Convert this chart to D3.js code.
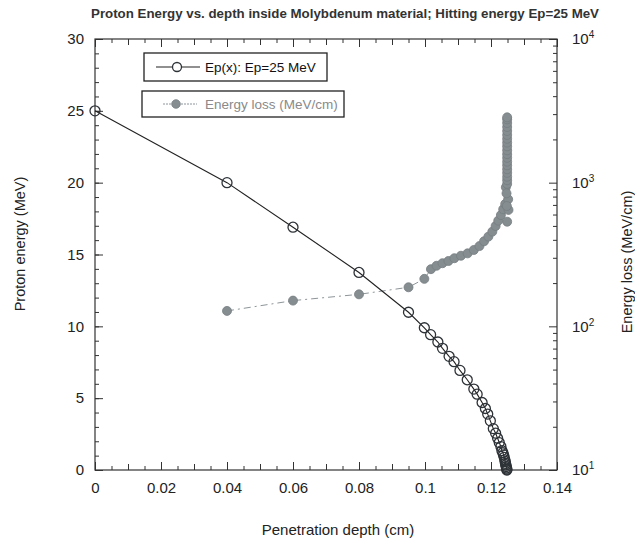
<!DOCTYPE html>
<meta charset="utf-8">
<script src="https://d3js.org/d3.v7.min.js"></script>
<style>
  body { margin: 0; background: #fff; font-family: "Liberation Sans", Arial, sans-serif; }
  .axis text { font-family: "Liberation Sans", Arial, sans-serif; font-size: 15px; fill: #222; }
  .axis line { stroke: #333; }
  .axis path { display: none; }
</style>
<body>
<div id="chart"></div>
<script>

// Ep(x): proton energy vs depth
var epDepth = [0, 0.04, 0.06, 0.08, 0.095, 0.0998, 0.1017, 0.1039, 0.1053, 0.1073, 0.1088, 0.1106,
  0.1128, 0.1148, 0.1158, 0.1173, 0.1183, 0.119, 0.1198, 0.1207, 0.1214, 0.122, 0.1225, 0.123,
  0.1233, 0.1236, 0.1238, 0.124, 0.1242, 0.1243, 0.1244, 0.1245, 0.1246, 0.1247, 0.1248, 0.1248];
var epEnergy = [25, 20, 16.9, 13.75, 10.98, 9.9, 9.42, 8.91, 8.47, 7.91, 7.54, 6.93,
  6.28, 5.63, 5.28, 4.7, 4.28, 3.89, 3.42, 2.88, 2.56, 2.21, 1.91, 1.63,
  1.35, 1.2, 1.05, 0.88, 0.7, 0.58, 0.46, 0.35, 0.24, 0.14, 0.06, 0];

// energy loss (MeV/cm) vs depth
var lossDepth = [0.04, 0.06, 0.08, 0.095, 0.0998, 0.1018, 0.1035, 0.1053, 0.1071, 0.1089, 0.1109,
  0.1129, 0.1148, 0.1165, 0.1179, 0.1192, 0.1204, 0.1214, 0.1222, 0.123, 0.1237, 0.1243,
  0.1249, 0.1245, 0.1252, 0.1247, 0.1253, 0.1248,
  0.1249, 0.1249, 0.1249, 0.1249, 0.1249, 0.1249, 0.1249, 0.1249, 0.1249, 0.1249,
  0.1249, 0.1249, 0.1249, 0.1249, 0.1249, 0.1249, 0.1249, 0.1249, 0.1249];
var lossValues = [128, 151, 167, 187, 214, 250, 264, 275, 285, 298, 310,
  322, 340, 362, 391, 421, 456, 499, 544, 595, 653, 710,
  535, 929, 766, 843, 646, 688,
  980, 1040, 1100, 1170, 1240, 1320, 1400, 1490, 1580, 1680,
  1790, 1900, 2020, 2150, 2290, 2440, 2600, 2760, 2850];

var xTicks = [0, 0.02, 0.04, 0.06, 0.08, 0.1, 0.12, 0.14];
var xTickLabels = ["0", "0.02", "0.04", "0.06", "0.08", "0.1", "0.12", "0.14"];
var yTicks = [0, 5, 10, 15, 20, 25, 30];
var y2Ticks = [10, 100, 1000, 10000];
var y2TickExp = ["1", "2", "3", "4"];

var W = 635, H = 546;
var margin = {top: 39, right: 78, bottom: 76, left: 95},
    width = W - margin.left - margin.right,
    height = H - margin.top - margin.bottom;

var svg = d3.select("#chart").append("svg")
    .attr("width", W).attr("height", H);

svg.append("text")
    .attr("x", 345).attr("y", 18)
    .attr("text-anchor", "middle")
    .style("font-size", "13.3px").style("font-weight", "bold").style("fill", "#333")
    .text("Proton Energy vs. depth inside Molybdenum material; Hitting energy Ep=25 MeV");

var g = svg.append("g")
    .attr("transform", "translate(" + margin.left + "," + margin.top + ")");

var x = d3.scaleLinear().domain([0, 0.14]).range([0, width]);
var y = d3.scaleLinear().domain([0, 30]).range([height, 0]);
var y2 = d3.scaleLog().domain([10, 10000]).range([height, 0]);

// minor ticks
var xMinor = d3.range(0, 0.1401, 0.005);
var xMid = d3.range(0.01, 0.14, 0.02);
var yMinor = d3.range(0, 31, 1);
var y2Minor = [];
[10, 100, 1000].forEach(function(d) { for (var k = 2; k <= 9; k++) y2Minor.push(d * k); });

g.append("g").attr("class", "axis").attr("transform", "translate(0," + height + ")")
  .call(d3.axisBottom(x).tickValues(xMinor).tickSize(-4).tickFormat(""));
g.append("g").attr("class", "axis").attr("transform", "translate(0," + height + ")")
  .call(d3.axisBottom(x).tickValues(xMid).tickSize(-6).tickFormat(""));
g.append("g").attr("class", "axis").attr("transform", "translate(0," + height + ")")
  .call(d3.axisBottom(x).tickValues(xTicks).tickSize(-8).tickPadding(12)
    .tickFormat(function(d, i) { return xTickLabels[i]; }));

g.append("g").attr("class", "axis")
  .call(d3.axisTop(x).tickValues(xMinor).tickSize(-4).tickFormat(""));
g.append("g").attr("class", "axis")
  .call(d3.axisTop(x).tickValues(xMid).tickSize(-6).tickFormat(""));
g.append("g").attr("class", "axis")
  .call(d3.axisTop(x).tickValues(xTicks).tickSize(-8).tickFormat(""));

g.append("g").attr("class", "axis")
  .call(d3.axisLeft(y).tickValues(yMinor).tickSize(-4).tickFormat(""));
g.append("g").attr("class", "axis")
  .call(d3.axisLeft(y).tickValues(yTicks).tickSize(-8).tickPadding(11).tickFormat(d3.format("d")));

g.append("g").attr("class", "axis").attr("transform", "translate(" + width + ",0)")
  .call(d3.axisRight(y2).tickValues(y2Minor).tickSize(-4).tickFormat(""));
var r2 = g.append("g").attr("class", "axis").attr("transform", "translate(" + width + ",0)")
  .call(d3.axisRight(y2).tickValues(y2Ticks).tickSize(-8).tickPadding(15).tickFormat(""));
r2.selectAll(".tick text").each(function(d, i) {
  var t = d3.select(this);
  t.append("tspan").text("10");
  t.append("tspan").attr("dy", "-0.6em").style("font-size", "10px").text(y2TickExp[i]);
});

// frame
g.append("rect").attr("width", width).attr("height", height)
  .attr("fill", "none").attr("stroke", "#333").attr("stroke-width", 1.2);

// axis titles
svg.append("text").attr("x", 338).attr("y", 535).attr("text-anchor", "middle")
  .style("font-size", "15px").style("fill", "#222").text("Penetration depth (cm)");
svg.append("text").attr("transform", "translate(25,244)rotate(-90)").attr("text-anchor", "middle")
  .style("font-size", "14.5px").style("fill", "#222").text("Proton energy (MeV)");
svg.append("text").attr("transform", "translate(632,262)rotate(-90)").attr("text-anchor", "middle")
  .style("font-size", "14.5px").style("fill", "#222").text("Energy loss (MeV/cm)");

// energy loss series
var lossMain = lossDepth.slice(0, 22).map(function(d, i) { return [d, lossValues[i]]; });
g.append("path").datum(lossMain)
  .attr("fill", "none").attr("stroke", "#8d9498").attr("stroke-width", 1)
  .attr("stroke-dasharray", "7,4,2,4")
  .attr("d", d3.line().x(function(d) { return x(d[0]); }).y(function(d) { return y2(d[1]); }));
g.selectAll(".loss").data(lossDepth).enter().append("circle")
  .attr("cx", function(d) { return x(d); })
  .attr("cy", function(d, i) { return y2(lossValues[i]); })
  .attr("r", 4.5)
  .attr("fill", "#858d91").attr("stroke", "#767e82").attr("stroke-width", 0.8);

// Ep series
g.append("path").datum(epDepth)
  .attr("fill", "none").attr("stroke", "#222").attr("stroke-width", 1.1)
  .attr("d", d3.line().x(function(d) { return x(d); }).y(function(d, i) { return y(epEnergy[i]); }));
g.selectAll(".ep").data(epDepth).enter().append("circle")
  .attr("cx", function(d) { return x(d); })
  .attr("cy", function(d, i) { return y(epEnergy[i]); })
  .attr("r", 5)
  .attr("fill", "none").attr("stroke", "#2e3338").attr("stroke-width", 1.3);

// legend
var leg = svg.append("g");
leg.append("rect").attr("x", 144).attr("y", 53).attr("width", 183).attr("height", 28)
  .attr("fill", "#fff").attr("stroke", "#222").attr("stroke-width", 1.3);
leg.append("line").attr("x1", 156).attr("x2", 200).attr("y1", 67).attr("y2", 67)
  .attr("stroke", "#222").attr("stroke-width", 1.1);
leg.append("circle").attr("cx", 177).attr("cy", 67).attr("r", 4.5)
  .attr("fill", "#fff").attr("stroke", "#2e3338").attr("stroke-width", 1.3);
leg.append("text").attr("x", 205).attr("y", 72).style("font-size", "13.5px").style("fill", "#111")
  .text("Ep(x): Ep=25 MeV");

leg.append("rect").attr("x", 142).attr("y", 91).attr("width", 202).attr("height", 26)
  .attr("fill", "#fff").attr("stroke", "#222").attr("stroke-width", 1.3);
leg.append("line").attr("x1", 163).attr("x2", 197).attr("y1", 104).attr("y2", 104)
  .attr("stroke", "#8d9498").attr("stroke-width", 1).attr("stroke-dasharray", "2,1");
leg.append("circle").attr("cx", 176).attr("cy", 104).attr("r", 4.3)
  .attr("fill", "#858d91").attr("stroke", "#767e82").attr("stroke-width", 0.8);
leg.append("text").attr("x", 205).attr("y", 109).style("font-size", "13.5px").style("fill", "#8a8a8a")
  .text("Energy loss (MeV/cm)");

</script>
</body>
